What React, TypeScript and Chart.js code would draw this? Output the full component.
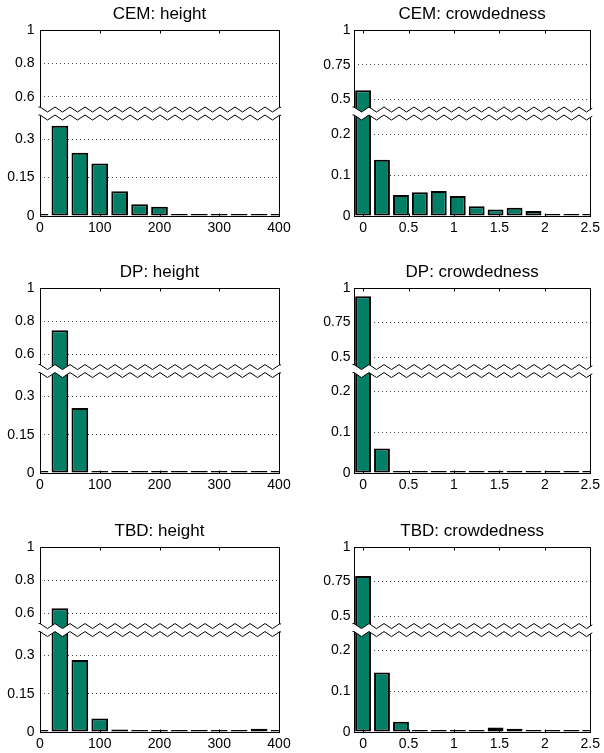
import React, { useEffect, useRef } from 'react';
import { Chart, registerables, LinearScale } from 'chart.js';

Chart.register(...registerables);

// ---------------- data ----------------
const heightBins = [0, 33.3, 66.7, 100, 133.3, 166.7, 200, 233.3, 266.7, 300, 333.3, 366.7, 400];
const crowdBins = [0, 0.208, 0.417, 0.625, 0.833, 1.042, 1.25, 1.458, 1.667, 1.875, 2.083, 2.292, 2.5];

const cemHeight = [0, 0.352, 0.247, 0.205, 0.097, 0.046, 0.036, 0.008, 0.004, 0.002, 0.001, 0.001, 0];
const cemCrowd = [0.568, 0.137, 0.051, 0.058, 0.061, 0.049, 0.024, 0.016, 0.02, 0.012, 0.002, 0.001, 0];
const dpHeight = [0, 0.745, 0.255, 0, 0, 0, 0, 0, 0, 0, 0, 0, 0];
const dpCrowd = [0.94, 0.06, 0, 0, 0, 0, 0, 0, 0, 0, 0, 0, 0];
const tbdHeight = [0, 0.632, 0.283, 0.053, 0.01, 0.003, 0.003, 0.001, 0.001, 0.002, 0.005, 0.013, 0];
const tbdCrowd = [0.79, 0.146, 0.025, 0.003, 0.003, 0.003, 0.003, 0.011, 0.008, 0.002, 0.001, 0, 0];

const heightXTicks = [0, 100, 200, 300, 400];
const crowdXTicks = [0, 0.5, 1, 1.5, 2, 2.5];
const heightYTicks = [0, 0.15, 0.3, 0.6, 0.8, 1];
const crowdYTicks = [0, 0.1, 0.2, 0.5, 0.75, 1];

const titles = [
  'CEM: height', 'CEM: crowdedness',
  'DP: height', 'DP: crowdedness',
  'TBD: height', 'TBD: crowdedness',
];
const seriesList = [cemHeight, cemCrowd, dpHeight, dpCrowd, tbdHeight, tbdCrowd];

// ---------------- styling / layout ----------------
const FONT = "'Liberation Sans', Arial, Helvetica, sans-serif";
const BAR_COLOR = '#007f66';
const TITLE_H = 30;
const X_AXIS_H = 21;
const ROWS = [
  { top: 0, h: 186 },
  { top: 258, h: 185 },
  { top: 517, h: 185 },
];
const COLS = [
  { left: 0, width: 300, yAxisW: 40, padRight: 21, yPad: 5.5 },
  { left: 300, width: 304, yAxisW: 54, padRight: 10, yPad: 3.5 },
];
const BREAKS = {
  height: { low: 0.4, high: 0.5, frac: 0.551 },
  crowd: { low: 0.25, high: 0.4, frac: 0.551 },
};

Chart.defaults.font.family = FONT;
Chart.defaults.color = '#000';

// Linear scale with a collapsed (broken) range between breakLow and breakHigh
class BrokenLinearScale extends LinearScale {
  static id = 'brokenLinear';
  static defaults = LinearScale.defaults;
  getPixelForValue(value: number) {
    if (value === null || value === undefined || isNaN(value)) return NaN;
    const o: any = this.options;
    const lo = o.breakLow, hi = o.breakHigh, f = o.breakFrac;
    const min = this.min, max = this.max;
    const h = this.bottom - this.top;
    const yb = this.bottom - f * h;
    if (value <= lo) return this.bottom - ((value - min) / (lo - min)) * f * h;
    if (value >= hi) return yb - ((value - hi) / (max - hi)) * (1 - f) * h;
    return yb;
  }
  getValueForPixel(pixel: number) {
    const o: any = this.options;
    const lo = o.breakLow, hi = o.breakHigh, f = o.breakFrac;
    const min = this.min, max = this.max;
    const h = this.bottom - this.top;
    const yb = this.bottom - f * h;
    if (pixel >= yb) return min + ((this.bottom - pixel) / (f * h)) * (lo - min);
    return hi + ((yb - pixel) / ((1 - f) * h)) * (max - hi);
  }
}
Chart.register(BrokenLinearScale);

const frameAndBreak = {
  id: 'frameAndBreak',
  afterDatasetsDraw(chart: any) {
    const { ctx, chartArea } = chart;
    const { left, right, top, bottom } = chartArea;
    const ys: any = chart.scales.y;
    const xs: any = chart.scales.x;
    const L = Math.round(left) + 0.5;
    const R = Math.round(right) + 0.5;
    const T = Math.round(top) + 0.5;
    const B = Math.round(bottom) + 0.5;
    ctx.save();
    ctx.setLineDash([]);
    ctx.strokeStyle = '#000';
    ctx.lineWidth = 1;
    ctx.strokeRect(L, T, R - L, B - T);
    // inward x tick marks
    ctx.beginPath();
    xs.ticks.forEach((t: any, i: number) => {
      const px = Math.round(xs.getPixelForTick(i)) + 0.5;
      if (px <= L + 1 || px >= R - 1) return;
      ctx.moveTo(px, T);
      ctx.lineTo(px, T + 3);
      ctx.moveTo(px, B);
      ctx.lineTo(px, B - 3);
    });
    ctx.stroke();

    // axis break (zigzag band)
    const yb = ys.getPixelForValue(ys.options.breakLow);
    const amp = 2.5, half = 7.5, gap = 4;
    const pts: number[][] = [];
    let k = 0;
    for (let x = left; x <= right + half * 2; x += half, k++) {
      pts.push([x, k % 2 === 0 ? -amp : amp]);
    }
    ctx.beginPath();
    ctx.rect(left - 1.5, yb - 20, right - left + 3.5, 40);
    ctx.clip();
    ctx.beginPath();
    ctx.moveTo(left - 10, yb - gap - amp);
    pts.forEach(([x, d]) => ctx.lineTo(x, yb - gap + d));
    for (let i = pts.length - 1; i >= 0; i--) ctx.lineTo(pts[i][0], yb + gap + pts[i][1]);
    ctx.lineTo(left - 10, yb + gap - amp);
    ctx.closePath();
    ctx.fillStyle = '#fff';
    ctx.fill();
    ctx.strokeStyle = '#000';
    ctx.lineWidth = 1;
    [-gap, gap].forEach((g) => {
      ctx.beginPath();
      ctx.moveTo(left - 10, yb + g - amp);
      pts.forEach(([x, d]) => ctx.lineTo(x, yb + g + d));
      ctx.stroke();
    });
    ctx.restore();
  },
};

function Panel({ index }: { index: number }) {
  const ref = useRef<HTMLCanvasElement>(null);
  const col = COLS[index % 2];
  const row = ROWS[Math.floor(index / 2)];
  const isHeight = index % 2 === 0;
  const canvasH = TITLE_H + row.h + X_AXIS_H;

  useEffect(() => {
    const bins = isHeight ? heightBins : crowdBins;
    const values = seriesList[index];
    const xTicks = isHeight ? heightXTicks : crowdXTicks;
    const yTicks = isHeight ? heightYTicks : crowdYTicks;
    const brk = isHeight ? BREAKS.height : BREAKS.crowd;
    const tickFont = { family: FONT, size: 14 };

    const chart = new Chart(ref.current as HTMLCanvasElement, {
      type: 'bar',
      data: {
        datasets: [
          {
            data: bins.map((x, i) => ({ x, y: values[i] })),
            backgroundColor: BAR_COLOR,
            borderColor: '#000',
            borderWidth: 2,
            borderSkipped: false,
            barPercentage: 0.84,
            categoryPercentage: 1,
            minBarLength: 2,
            clip: 0,
          } as any,
        ],
      },
      options: {
        responsive: false,
        animation: false,
        events: [],
        layout: { padding: { left: 0, right: col.padRight, top: 0, bottom: 0 } },
        plugins: {
          legend: { display: false },
          tooltip: { enabled: false },
          title: {
            display: true,
            text: titles[index],
            fullSize: false,
            color: '#000',
            font: { family: FONT, size: 17, weight: 'normal', lineHeight: 1.2 },
            padding: { top: 4.5, bottom: 5.1 },
          },
        },
        scales: {
          x: {
            type: 'linear',
            min: isHeight ? 0 : -0.1,
            max: isHeight ? 400 : 2.5,
            offset: false,
            grid: { display: false, drawTicks: false },
            border: { display: false },
            ticks: {
              font: tickFont,
              color: '#000',
              padding: 4,
              maxRotation: 0,
              autoSkip: false,
              callback: (v: any) => String(v),
            },
            afterBuildTicks: (s: any) => {
              s.ticks = xTicks.map((value) => ({ value }));
            },
            afterFit: (s: any) => {
              s.height = X_AXIS_H;
            },
          },
          y: {
            type: 'brokenLinear',
            min: 0,
            max: 1,
            breakLow: brk.low,
            breakHigh: brk.high,
            breakFrac: brk.frac,
            grid: {
              drawTicks: false,
              lineWidth: 1,
              color: (c: any) =>
                c.tick && (c.tick.value === 0 || c.tick.value === 1) ? 'rgba(0,0,0,0)' : '#444',
            },
            border: { display: false, dash: [1, 3] },
            ticks: {
              font: tickFont,
              color: '#000',
              padding: col.yPad,
              autoSkip: false,
              callback: (v: any) => String(v),
            },
            afterBuildTicks: (s: any) => {
              s.ticks = yTicks.map((value) => ({ value }));
            },
            afterFit: (s: any) => {
              s.width = col.yAxisW;
            },
          } as any,
        },
      } as any,
      plugins: [frameAndBreak],
    });
    return () => chart.destroy();
  }, []);

  return (
    <canvas
      ref={ref}
      width={col.width}
      height={canvasH}
      style={{ position: 'absolute', left: col.left, top: row.top, width: col.width, height: canvasH }}
    />
  );
}

export default function App() {
  return (
    <div
      style={{
        position: 'absolute',
        left: 0,
        top: 0,
        width: 604,
        height: 753,
        background: '#fff',
        overflow: 'hidden',
      }}
    >
      {titles.map((_, i) => (
        <Panel key={i} index={i} />
      ))}
    </div>
  );
}
